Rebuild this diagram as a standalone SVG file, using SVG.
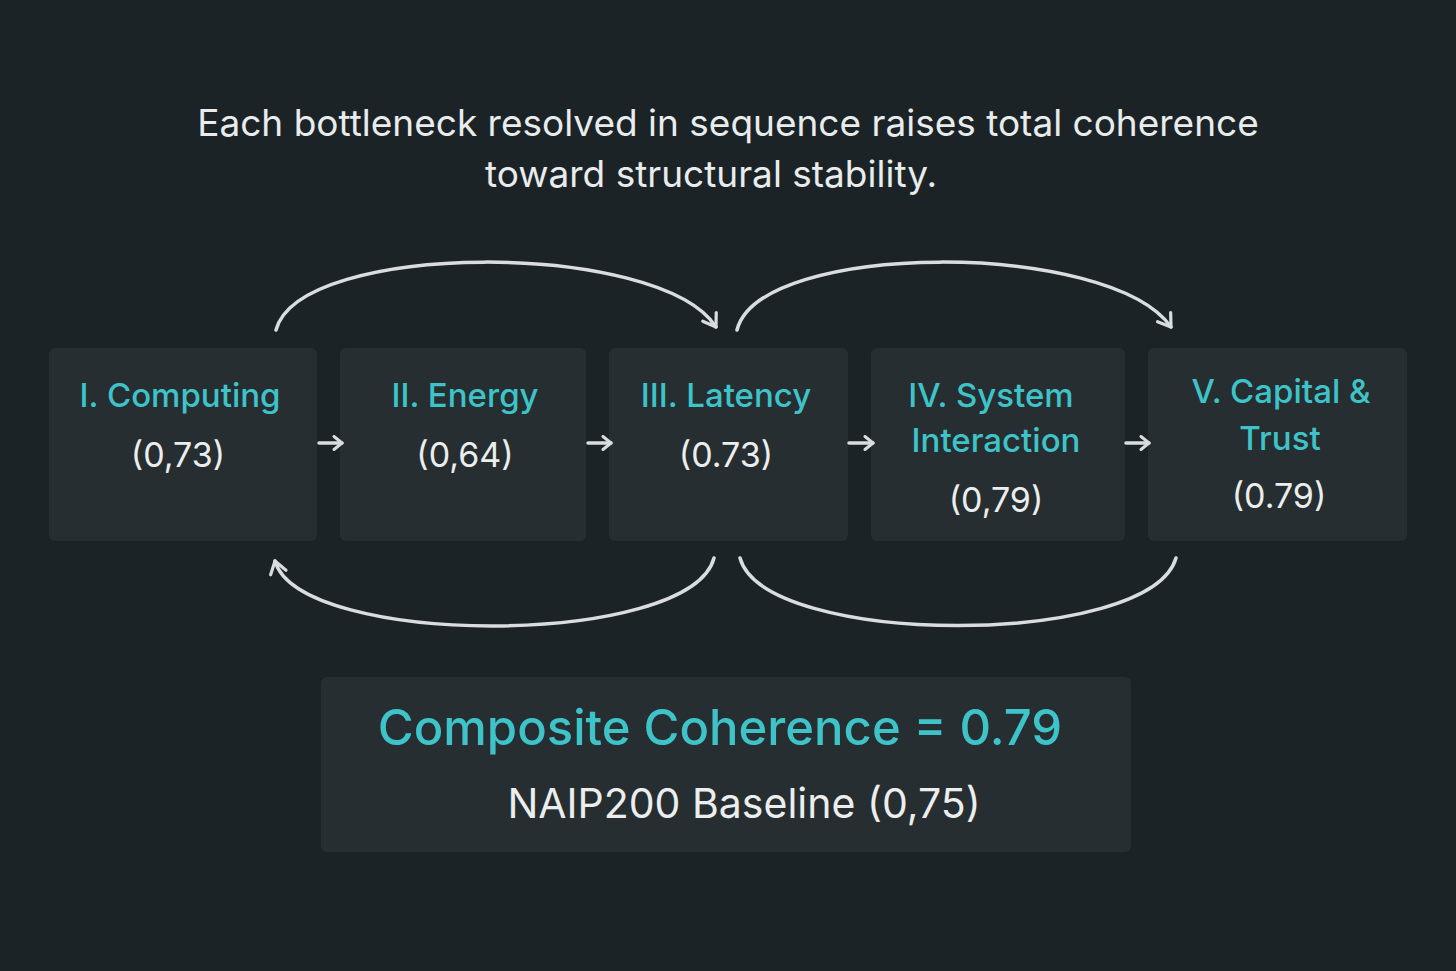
<svg xmlns="http://www.w3.org/2000/svg" width="1456" height="971" viewBox="0 0 1456 971">
  <style>
    .title { font-family: Inter, "Noto Sans", "Liberation Sans", sans-serif; font-size: 37px; fill: #e9ecec; text-anchor: middle; }
    .node-title { font-family: Inter, "Noto Sans", "Liberation Sans", sans-serif; font-size: 33px; font-weight: 500; fill: #3ec4c8; text-anchor: middle; }
    .node-val { font-family: Inter, "Noto Sans", "Liberation Sans", sans-serif; font-size: 34px; fill: #eceeee; text-anchor: middle; }
    .box { fill: #262e32; }
    .conn { fill: none; stroke: #d9dddf; stroke-width: 3.5; stroke-linecap: round; }
    .big { font-family: Inter, "Noto Sans", "Liberation Sans", sans-serif; font-size: 49px; font-weight: 500; fill: #3ec4c8; text-anchor: middle; }
    .sub { font-family: Inter, "Noto Sans", "Liberation Sans", sans-serif; font-size: 41px; fill: #eceeee; text-anchor: middle; }
  </style>
  <defs>
    <marker id="head" viewBox="0 0 16 16" refX="13" refY="8" markerWidth="16" markerHeight="16" markerUnits="userSpaceOnUse" orient="auto">
      <path d="M5,1.5 L13,8 L5,14.5" fill="none" stroke="#d9dddf" stroke-width="3" stroke-linecap="round" stroke-linejoin="round"/>
    </marker>
    <marker id="bighead" viewBox="0 0 20 20" refX="17" refY="10" markerWidth="20" markerHeight="20" markerUnits="userSpaceOnUse" orient="auto">
      <path d="M5,2 L17,10 L5,18" fill="none" stroke="#d9dddf" stroke-width="3.2" stroke-linecap="round" stroke-linejoin="round"/>
    </marker>
  </defs>
  <rect width="1456" height="971" fill="#1b2327"/>

  <g id="heading">
    <text class="title" x="728" y="136">Each bottleneck resolved in sequence raises total coherence</text>
    <text class="title" x="711" y="187">toward structural stability.</text>
  </g>

  <g id="node-computing">
    <rect class="box" x="49" y="348" width="268" height="193" rx="6"/>
    <text class="node-title" x="180" y="407">I. Computing</text>
    <text class="node-val" x="178" y="467">(0,73)</text>
  </g>
  <g id="node-energy">
    <rect class="box" x="340" y="348" width="246" height="193" rx="6"/>
    <text class="node-title" x="465" y="407">II. Energy</text>
    <text class="node-val" x="465" y="467">(0,64)</text>
  </g>
  <g id="node-latency">
    <rect class="box" x="609" y="348" width="239" height="193" rx="6"/>
    <text class="node-title" x="726" y="407">III. Latency</text>
    <text class="node-val" x="726" y="467">(0.73)</text>
  </g>
  <g id="node-system">
    <rect class="box" x="871" y="348" width="254" height="193" rx="6"/>
    <text class="node-title" x="991" y="407">IV. System</text>
    <text class="node-title" x="996" y="452">Interaction</text>
    <text class="node-val" x="996" y="512">(0,79)</text>
  </g>
  <g id="node-capital">
    <rect class="box" x="1148" y="348" width="259" height="193" rx="6"/>
    <text class="node-title" x="1281" y="403">V. Capital &amp;</text>
    <text class="node-title" x="1280" y="450">Trust</text>
    <text class="node-val" x="1279" y="508">(0.79)</text>
  </g>

  <g id="connectors">
    <path class="conn" d="M319,443 L342,443" marker-end="url(#head)"/>
    <path class="conn" d="M588,443 L611,443" marker-end="url(#head)"/>
    <path class="conn" d="M849,443 L873,443" marker-end="url(#head)"/>
    <path class="conn" d="M1126,443 L1149,443" marker-end="url(#head)"/>
    <path class="conn" d="M276,330 C300,240 660,240 716,327" marker-end="url(#bighead)"/>
    <path class="conn" d="M737,330 C760,240 1110,240 1171,327" marker-end="url(#bighead)"/>
    <path class="conn" d="M714,558 C690,648 300,648 275,561" marker-end="url(#bighead)"/>
    <path class="conn" d="M740,558 C765,648 1150,648 1176,558"/>
  </g>

  <g id="node-composite">
    <rect class="box" x="321" y="677" width="810" height="175" rx="6" fill="#252d31"/>
    <text class="big" x="720" y="745">Composite Coherence = 0.79</text>
    <text class="sub" x="744" y="818">NAIP200 Baseline (0,75)</text>
  </g>
</svg>
